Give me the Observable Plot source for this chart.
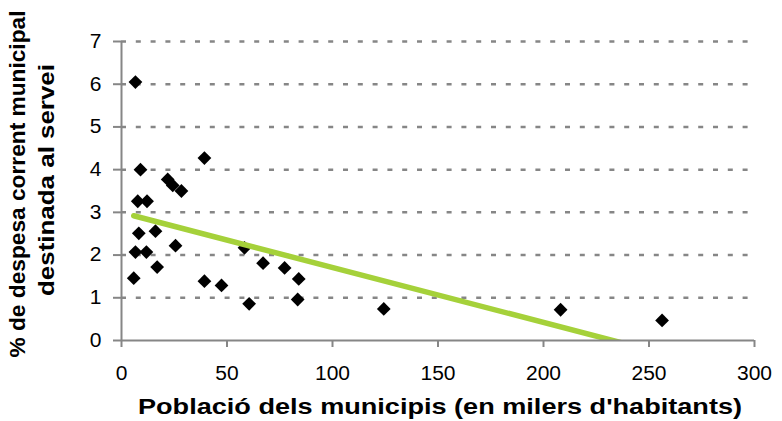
<!DOCTYPE html>
<html><head><meta charset="utf-8">
<script src="https://cdn.jsdelivr.net/npm/d3@7"></script>
<script src="https://cdn.jsdelivr.net/npm/@observablehq/plot@0.6"></script>
<style>body{margin:0;background:#fff} svg{display:block}</style>
</head><body><div id="chart"></div>
<script>
const population = [5.8, 6.6, 6.6, 7.7, 8.2, 9.0, 11.8, 12.1, 16.1, 16.9, 21.9, 24.3, 25.6, 28.4, 39.3, 39.3, 47.4, 58.3, 60.5, 67.1, 77.3, 83.5, 84.0, 124.3, 208.1, 256.2];
const percent    = [1.46, 6.05, 2.07, 3.26, 2.51, 4.00, 2.07, 3.26, 2.56, 1.72, 3.77, 3.63, 2.22, 3.50, 4.27, 1.39, 1.29, 2.17, 0.86, 1.81, 1.70, 0.96, 1.44, 0.74, 0.72, 0.47];
const trendX = [5.8, 256.2];
const trendY = [2.92, -0.30];
const xTicks = [0, 50, 100, 150, 200, 250, 300];
const yTicks = [0, 1, 2, 3, 4, 5, 6, 7];
const xTitle = "Població dels municipis (en milers d'habitants)";
const yTitle = ["% de despesa corrent municipal", "destinada al servei"];

const points = population.map((p, i) => ({p, v: percent[i]}));
const trend = trendX.map((x, i) => ({x, y: trendY[i]}));
const grey = "#868686";
const font = "'Liberation Sans', Arial, sans-serif";

const plot = Plot.plot({
  width: 782, height: 421,
  marginLeft: 121, marginRight: 28, marginTop: 41, marginBottom: 81,
  style: {fontFamily: font, fontSize: "20px", background: "white", color: "black"},
  x: {domain: [0, 300], label: null},
  y: {domain: [0, 7], label: null},
  marks: [
    Plot.ruleY(yTicks.filter(d => d > 0), {stroke: grey, strokeWidth: 2.5, strokeDasharray: "5,9.8"}),
    Plot.dot(points, {x: "p", y: "v", symbol: "diamond2", r: 6.2, fill: "black", stroke: "none"}),
    Plot.line(trend, {x: "x", y: "y", stroke: "#a5d13a", strokeWidth: 5.5, clip: true}),
    Plot.ruleX([0], {stroke: grey, strokeWidth: 2}),
    Plot.ruleY([0], {stroke: grey, strokeWidth: 2}),
    Plot.axisX({ticks: xTicks, tickSize: 7, tickPadding: 18, stroke: grey, strokeWidth: 2, fill: "black", label: null, fontSize: 20, tickFormat: d => String(d)}),
    Plot.axisY({ticks: yTicks, tickSize: 8, tickPadding: 12, stroke: grey, strokeWidth: 2, fill: "black", label: null, fontSize: 20, tickFormat: d => String(d)})
  ]
});
document.getElementById("chart").appendChild(plot);

const svg = d3.select(plot);
svg.selectAll("text").each(function() {
  const w = this.getComputedTextLength();
  if (w > 0) d3.select(this).attr("textLength", w * 1.05).attr("lengthAdjust", "spacingAndGlyphs");
});

svg.append("text")
  .attr("x", 440).attr("y", 414)
  .attr("text-anchor", "middle")
  .attr("font-family", font)
  .attr("font-weight", "bold").attr("font-size", 22)
  .attr("fill", "black")
  .attr("textLength", 604).attr("lengthAdjust", "spacingAndGlyphs")
  .text(xTitle);

const yg = svg.append("g").attr("transform", "rotate(-90)");
const yPos = [{c: 184, b: 25, len: 347}, {c: 180, b: 54, len: 232}];
yTitle.forEach((t, i) => {
  yg.append("text")
    .attr("x", -yPos[i].c).attr("y", yPos[i].b)
    .attr("text-anchor", "middle")
    .attr("font-family", font)
    .attr("font-weight", "bold").attr("font-size", 22)
    .attr("fill", "black")
    .attr("textLength", yPos[i].len).attr("lengthAdjust", "spacingAndGlyphs")
    .text(t);
});
</script>
</body></html>
